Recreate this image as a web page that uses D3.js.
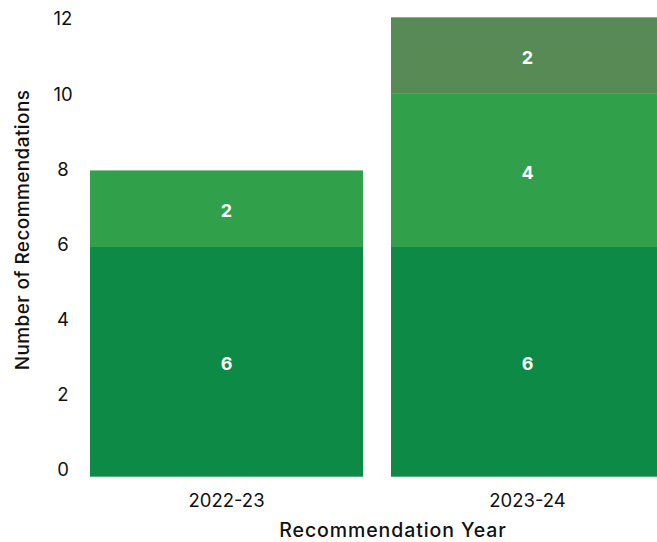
<!DOCTYPE html>
<html><head><meta charset="utf-8">
<script src="https://cdn.jsdelivr.net/npm/d3@7"></script>
<style>body{margin:0;background:#fff}svg{display:block;font-family:Inter,"Noto Sans",sans-serif}</style>
</head><body><svg id="c" width="657" height="542"></svg>
<script>
const years = ["2022-23", "2023-24"];
const seriesNames = ["Group A", "Group B", "Group C"];
const groupA = [6, 6];
const groupB = [2, 4];
const groupC = [0, 2];
const yTicks = [0, 2, 4, 6, 8, 10, 12];
const colors = ["#0d8a45", "#30a04a", "#578a55"];

const svg = d3.select("#c");
const x = d3.scaleBand().domain(years).range([90, 664]).paddingInner(0.093).paddingOuter(0);
const y = d3.scaleLinear().domain([0, 12]).range([476.7, 17.3]);
const yLab = d3.scaleLinear().domain([0, 12]).range([470, 19]);

const rows = years.map((yr, i) => ({year: yr, "Group A": groupA[i], "Group B": groupB[i], "Group C": groupC[i]}));
const stack = d3.stack().keys(seriesNames)(rows);

stack.forEach((s, si) => {
  const g = svg.append("g").attr("fill", colors[si]);
  s.forEach(d => {
    if (d[1] - d[0] <= 0) return;
    g.append("rect").attr("x", x(d.data.year)).attr("width", x.bandwidth())
      .attr("y", y(d[1])).attr("height", y(d[0]) - y(d[1]));
    svg.append("text").attr("x", x(d.data.year) + x.bandwidth() / 2)
      .attr("y", y((d[0] + d[1]) / 2) + 2).attr("dy", "0.35em")
      .attr("text-anchor", "middle").attr("fill", "#fff").attr("font-weight", 700)
      .attr("font-size", 18).text(d[1] - d[0]);
  });
});

// y axis labels
const ya = svg.append("g").attr("transform", "translate(63,0)")
  .call(d3.axisLeft(yLab).tickValues(yTicks).tickSize(0).tickPadding(0));
ya.select(".domain").remove();
ya.selectAll("text").attr("text-anchor", "middle").attr("font-size", 18.5)
  .attr("font-family", "Inter, 'Noto Sans', sans-serif").attr("fill", "#111");

// x axis labels
const xa = svg.append("g").attr("transform", "translate(0,501)")
  .call(d3.axisBottom(x).tickSize(0).tickPadding(0));
xa.select(".domain").remove();
xa.selectAll("text").attr("font-size", 18.5).attr("dy", "0.35em")
  .attr("font-family", "Inter, 'Noto Sans', sans-serif").attr("fill", "#111");

svg.append("text").attr("x", 393).attr("y", 537).attr("text-anchor", "middle")
  .attr("font-size", 19.5).attr("font-weight", 500).attr("letter-spacing", 0.9)
  .attr("fill", "#111").text("Recommendation Year");
svg.append("text").attr("transform", "translate(29,230) rotate(-90)").attr("text-anchor", "middle")
  .attr("font-size", 19).attr("font-weight", 500).attr("letter-spacing", 0.4)
  .attr("fill", "#111").text("Number of Recommendations");
</script></body></html>
